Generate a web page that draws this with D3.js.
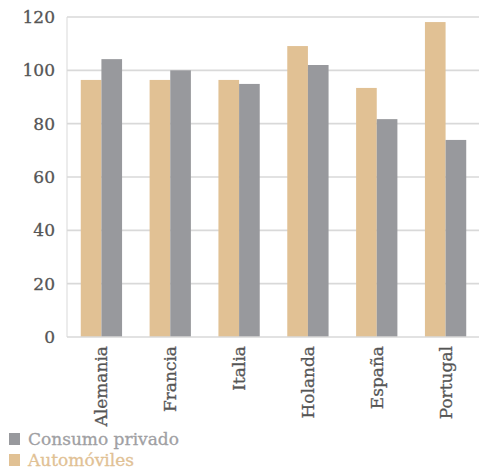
<!DOCTYPE html>
<html>
<head>
<meta charset="utf-8">
<script src="https://cdn.jsdelivr.net/npm/d3@7"></script>
<style>
  html, body { margin: 0; padding: 0; background: #fff; }
  svg { display: block; }
  text { font-family: "DejaVu Serif", serif; }
</style>
</head>
<body>
<svg id="chart" width="479" height="469"></svg>
<script>
// Índices por país
const categories = ["Alemania", "Francia", "Italia", "Holanda", "España", "Portugal"];
const automoviles = [96.4, 96.4, 96.4, 109.1, 93.4, 118.1];
const consumoPrivado = [104.2, 100.0, 94.9, 102.0, 81.7, 73.9];
const yTicks = [0, 20, 40, 60, 80, 100, 120];
const seriesNames = ["Consumo privado", "Automóviles"];

const colAuto = "#e1c194";
const colCons = "#98999d";
const textCol = "#555555";

const svg = d3.select("#chart");
const plotLeft = 67, plotRight = 480, plotTop = 17, plotBottom = 337;

const x = d3.scaleBand().domain(categories).range([plotLeft, plotRight]).paddingInner(0.4).paddingOuter(0.2);
const xs = d3.scaleBand().domain(["auto", "cons"]).range([0, x.bandwidth()]);
const y = d3.scaleLinear().domain([0, 120]).range([plotBottom, plotTop]);

// Horizontal grid
svg.append("g").selectAll("line").data(yTicks.filter(d => d > 0)).join("line")
  .attr("x1", plotLeft).attr("x2", 479)
  .attr("y1", d => y(d)).attr("y2", d => y(d))
  .attr("stroke", "#d9d9d9").attr("stroke-width", 1.6);

// Bars
const g = svg.append("g");
g.selectAll("rect.auto").data(categories).join("rect").attr("class", "auto")
  .attr("x", d => x(d) + xs("auto")).attr("width", xs.bandwidth())
  .attr("y", (d, i) => y(automoviles[i])).attr("height", (d, i) => y(0) - y(automoviles[i]))
  .attr("fill", colAuto);
g.selectAll("rect.cons").data(categories).join("rect").attr("class", "cons")
  .attr("x", d => x(d) + xs("cons")).attr("width", xs.bandwidth())
  .attr("y", (d, i) => y(consumoPrivado[i])).attr("height", (d, i) => y(0) - y(consumoPrivado[i]))
  .attr("fill", colCons);

// Axis lines
svg.append("line").attr("x1", plotLeft).attr("x2", plotLeft).attr("y1", plotTop).attr("y2", plotBottom)
  .attr("stroke", "#d9d9d9").attr("stroke-width", 1);
svg.append("line").attr("x1", plotLeft).attr("x2", 479).attr("y1", plotBottom).attr("y2", plotBottom)
  .attr("stroke", "#d9d9d9").attr("stroke-width", 1.6);

// Y tick labels
svg.append("g").selectAll("text").data(yTicks).join("text")
  .attr("x", 55).attr("y", d => y(d)).attr("dy", "0.36em")
  .attr("text-anchor", "end").attr("font-size", 17)
  .attr("fill", textCol).attr("stroke", textCol).attr("stroke-width", 0.3)
  .text(d => d);

// X labels, rotated
svg.append("g").selectAll("text").data(categories).join("text")
  .attr("transform", d => `translate(${x(d) + x.bandwidth() / 2 + 6},346) rotate(-90)`)
  .attr("text-anchor", "end").attr("font-size", 17)
  .attr("fill", textCol).attr("stroke", textCol).attr("stroke-width", 0.3)
  .text(d => d);

// Legend
const legend = svg.append("g");
const legendColors = [colCons, colAuto];
const legendTextColors = ["#a0a0a3", colAuto];
const legendY = [439, 460];
seriesNames.forEach((name, i) => {
  legend.append("rect").attr("x", 9).attr("y", legendY[i] - 6).attr("width", 11).attr("height", 12)
    .attr("fill", legendColors[i]);
  legend.append("text").attr("x", 28).attr("y", legendY[i]).attr("dy", "0.36em")
    .attr("font-size", 17)
    .attr("fill", legendTextColors[i]).attr("stroke", legendTextColors[i]).attr("stroke-width", 0.3)
    .text(name);
});
</script>
</body>
</html>
